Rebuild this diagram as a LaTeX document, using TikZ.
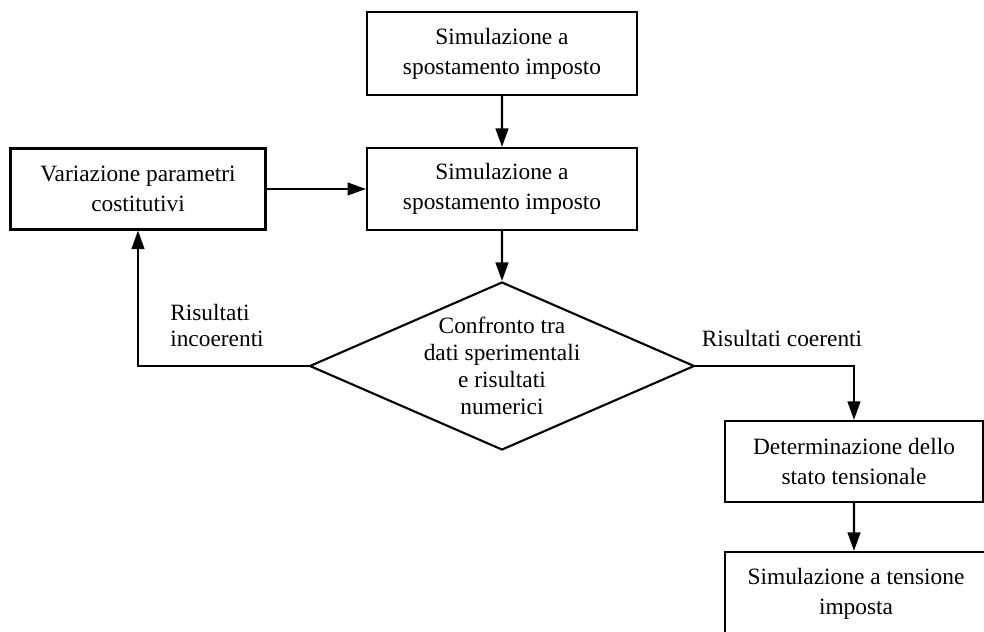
\documentclass[tikz,border=0pt]{standalone}
\usepackage{fontspec}
\setmainfont{Liberation Serif}
\usetikzlibrary{arrows.meta,shapes.geometric}

\begin{document}
\begin{tikzpicture}[scale=0.2]
    \tikzstyle{every node}+=[inner sep=0pt]
    \tikzstyle{stepbox}=[draw=black, line width=1.2pt, rectangle, align=center, font=\fontsize{13.3}{17}\selectfont]
    \tikzstyle{testbox}=[draw=black, line width=1.2pt, diamond, minimum width=219pt, minimum height=95.6pt]
    \tikzstyle{txt}=[align=center, font=\fontsize{13.3}{15.4}\selectfont]
    \tikzstyle{flow}=[draw=black, line width=1.2pt, -{Triangle[length=10.5pt,width=7.2pt]}]
    \useasboundingbox (0,0) rectangle (98.4,-63.1);
    \clip (0,0) rectangle (98.4,-63.1);
    \node [stepbox, minimum width=153.6pt, minimum height=47.2pt] (sim1) at (50.2,-5.35) {Simulazione a\\spostamento imposto};
    \node [stepbox, minimum width=153.6pt, minimum height=46.7pt] (sim2) at (50.2,-18.9) {Simulazione a\\spostamento imposto};
    \node [stepbox, minimum width=145.1pt, minimum height=46.1pt] (var) at (13.8,-18.9) {Variazione parametri\\costitutivi};
    \node [testbox] (cmp) at (50.2,-36.6) {};
    \node [txt] (cmptxt) at (50.2,-36.6) {Confronto tra\\dati sperimentali\\e risultati\\numerici};
    \node [stepbox, minimum width=146.8pt, minimum height=46.1pt] (det) at (85.4,-46.15) {Determinazione dello\\stato tensionale};
    \node [stepbox, minimum width=149.1pt, minimum height=47.8pt] (sim3) at (85.6,-59.4) {Simulazione a tensione\\imposta};
    \node [txt, align=left, font=\fontsize{13.3}{14.3}\selectfont] (inc) at (21.7,-32.55) {Risultati\\incoerenti};
    \node [txt] (coe) at (78.2,-33.8) {Risultati coerenti};
    \draw [flow] (sim1) -- (sim2);
    \draw [flow] (var) -- (sim2);
    \draw [flow] (sim2) -- (cmp.north);
    \draw [flow] (cmp.west) -| (var.south);
    \draw [flow] (cmp.east) -| (det.north);
    \draw [flow] (det) -- (det.south |- sim3.north);
\end{tikzpicture}
\end{document}
